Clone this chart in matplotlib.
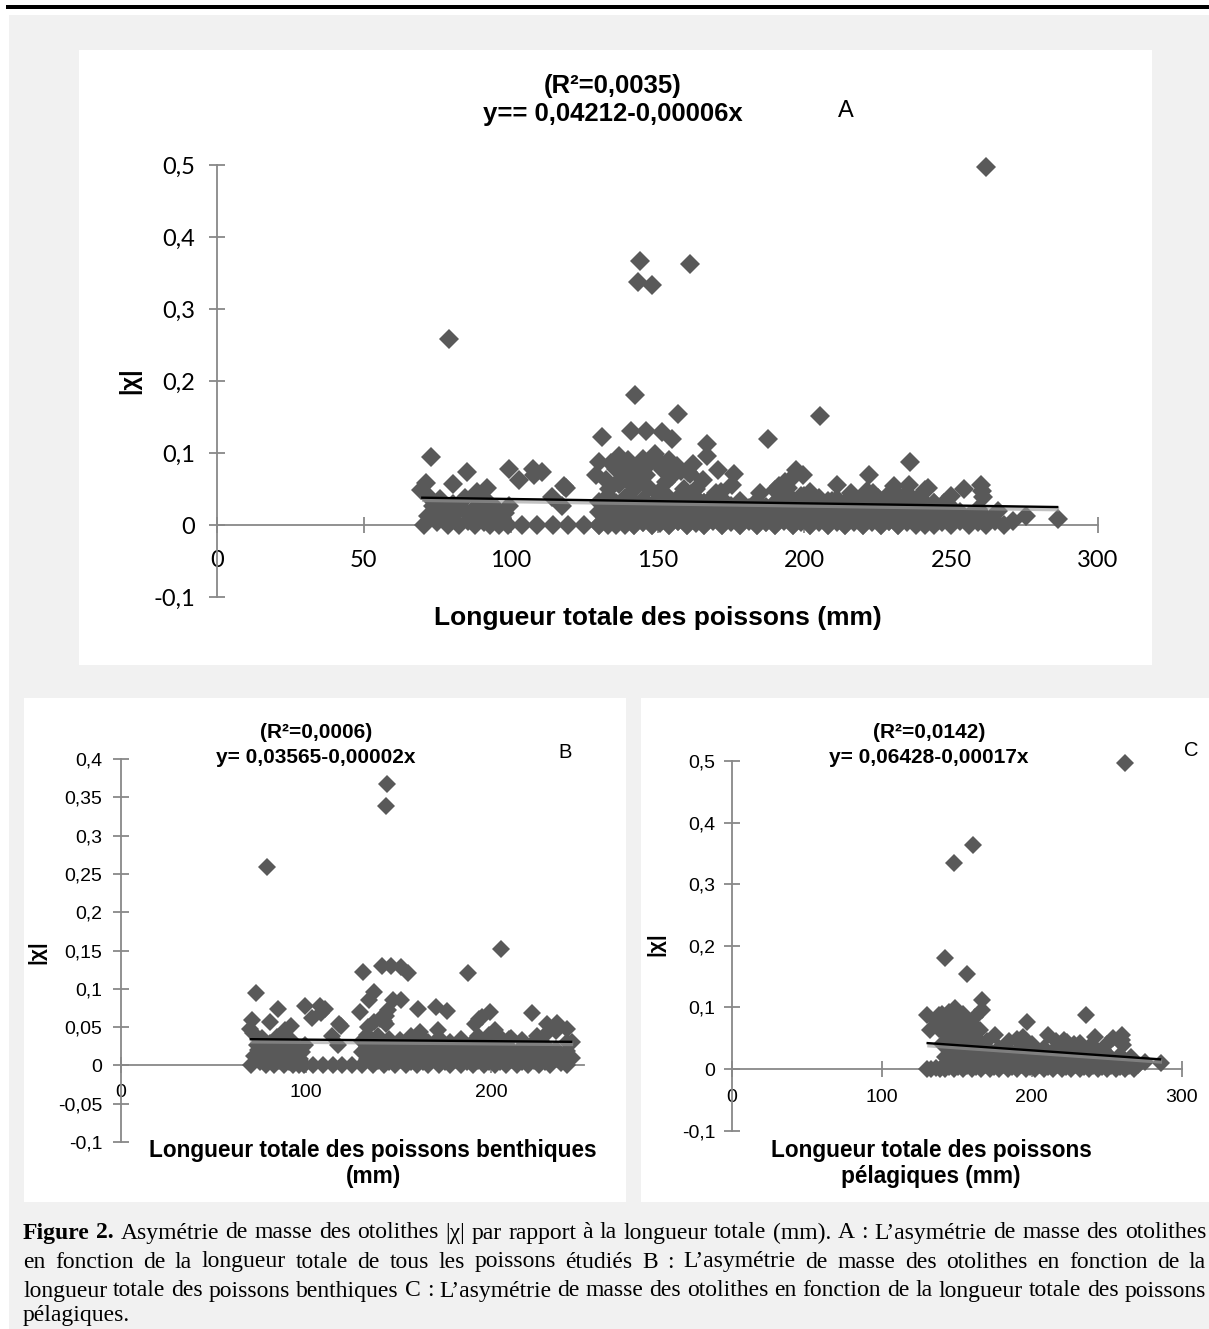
import matplotlib
matplotlib.use("Agg")
import matplotlib.pyplot as plt
import matplotlib.patheffects as pe
from matplotlib.patches import Rectangle

# figure size in pixels (dpi 100)
W, H = 1209, 1329

# ---- data ----
# benthic fish: (total length mm, |chi|)
benthic = [
    (79, 0.259), (144, 0.367), (143.5, 0.338), (205.5, 0.152), (187.5, 0.12),
    (131, 0.122), (141, 0.13), (146, 0.13), (151.5, 0.129), (155, 0.12),
    (73, 0.095), (134, 0.086), (137, 0.096), (147, 0.085), (151.5, 0.085),
    (129, 0.07), (85, 0.074), (99.5, 0.078), (107.5, 0.078), (108, 0.069),
    (103, 0.062), (80.5, 0.057), (71, 0.059), (69.5, 0.048), (92, 0.052),
    (88.5, 0.046), (119, 0.052), (114, 0.039), (117.5, 0.026), (140, 0.061),
    (143.5, 0.065), (133.5, 0.05), (137, 0.057), (160.5, 0.074), (170.5, 0.076),
    (176, 0.071), (161.5, 0.043), (171.5, 0.046), (195, 0.063), (199.5, 0.07),
    (202, 0.046), (222, 0.069), (193.5, 0.06), (191.5, 0.054), (230.5, 0.054),
    (235.5, 0.056), (241, 0.03), (225, 0.038), (209.5, 0.034), (205, 0.037),
    (144.5, 0.072), (143, 0.054), (142, 0.058), (118, 0.054), (110.5, 0.073),
    (70.5, 0.0), (72, 0.012), (73.5, 0.027), (75, 0.004), (76, 0.036),
    (77, 0.018), (78.5, 0.0), (79.5, 0.009), (80.5, 0.029), (81.5, 0.016),
    (82.5, 0.0), (83.5, 0.023), (84.5, 0.037), (85.5, 0.006), (87, 0.014),
    (88, 0.0), (89, 0.028), (90, 0.019), (91, 0.004), (92, 0.033),
    (93, 0.0), (94, 0.013), (95, 0.024), (96, 0.0), (97, 0.009),
    (98, 0.017), (99, 0.0), (71.5, 0.042), (87.5, 0.04), (99.5, 0.027),
    (74, 0.02), (90.5, 0.012),
    (104, 0.0), (109, 0.0), (114.5, 0.0), (119.5, 0.0), (125, 0.0),
    (130, 0.0), (130, 0.018), (130, 0.032), (133, 0.008), (133, 0.025), (133, 0.04),
    (136, 0.0), (136, 0.015), (136, 0.03), (139, 0.006), (139, 0.022), (139, 0.038),
    (142, 0.0), (142, 0.012), (142, 0.028), (145, 0.004), (145, 0.02), (145, 0.035),
    (148, 0.0), (148, 0.01), (148, 0.026), (151, 0.007), (151, 0.018), (151, 0.033),
    (154, 0.0), (154, 0.013), (154, 0.029), (157, 0.005), (157, 0.022), (157, 0.038),
    (160, 0.0), (160, 0.011), (160, 0.027), (163, 0.004), (163, 0.019), (163, 0.034),
    (166, 0.0), (166, 0.014), (166, 0.03), (169, 0.008), (169, 0.024),
    (172, 0.0), (172, 0.016), (172, 0.036), (175, 0.005), (175, 0.027),
    (178, 0.0), (178, 0.012), (178, 0.031), (181, 0.007), (181, 0.021),
    (184, 0.0), (184, 0.015), (184, 0.034), (187, 0.004), (187, 0.025),
    (190, 0.0), (190, 0.012), (190, 0.031), (193, 0.006), (193, 0.02), (193, 0.038),
    (196, 0.0), (196, 0.014), (196, 0.028), (199, 0.005), (199, 0.022), (199, 0.04),
    (202, 0.0), (202, 0.011), (202, 0.03), (205, 0.004), (205, 0.019),
    (208, 0.0), (208, 0.013), (208, 0.027), (211, 0.007), (211, 0.021), (211, 0.036),
    (214, 0.0), (214, 0.015), (217, 0.004), (217, 0.024), (217, 0.033),
    (220, 0.0), (220, 0.012), (223, 0.006), (223, 0.02), (223, 0.03),
    (226, 0.0), (226, 0.014), (229, 0.005), (229, 0.026), (229, 0.04),
    (232, 0.0), (232, 0.017), (235, 0.008), (235, 0.022), (235, 0.045),
    (238, 0.003), (238, 0.014), (241, 0.0), (241, 0.019), (241, 0.048),
    (244, 0.01), (244, 0.03),
]

# pelagic fish: (total length mm, |chi|)
pelagic = [
    (262, 0.497), (161, 0.363), (148, 0.334), (142.5, 0.181), (157, 0.154),
    (167, 0.112), (167, 0.096), (130, 0.088), (197, 0.077), (236, 0.088),
    (132.5, 0.063), (140, 0.09), (149, 0.099), (156.5, 0.082), (161, 0.071),
    (165.5, 0.063), (175.5, 0.055), (194.5, 0.052), (211, 0.055), (223.5, 0.044),
    (232, 0.042), (242, 0.052), (254.5, 0.05), (260, 0.055), (260.5, 0.047),
    (261, 0.039), (286.5, 0.009), (275.5, 0.012), (266, 0.02), (221.5, 0.047),
    (247.5, 0.031), (136, 0.078), (144, 0.085), (146, 0.07), (152, 0.076),
    (138, 0.065), (153, 0.06), (159, 0.05), (143, 0.055), (150, 0.045),
    (155, 0.068), (163, 0.05), (170, 0.045), (185, 0.045), (200, 0.04),
    (216, 0.045), (228, 0.04), (250, 0.04), (190, 0.048),
    (140, 0.04), (147, 0.052), (152, 0.035), (158, 0.04), (163, 0.038),
    (168, 0.035), (138, 0.088), (141, 0.075), (145, 0.092), (150, 0.085),
    (154, 0.09), (158, 0.075), (162, 0.085),
    (130, 0.0), (133, 0.0), (136, 0.002), (139, 0.0), (142, 0.0), (142, 0.02),
    (145, 0.004), (145, 0.035), (148, 0.0), (148, 0.015), (148, 0.028),
    (151, 0.003), (151, 0.022), (154, 0.0), (154, 0.012), (154, 0.038),
    (157, 0.005), (157, 0.025), (160, 0.0), (160, 0.015), (160, 0.034),
    (163, 0.003), (163, 0.022), (166, 0.0), (166, 0.01), (166, 0.03),
    (169, 0.006), (169, 0.02), (172, 0.0), (172, 0.013), (172, 0.03),
    (175, 0.004), (175, 0.022), (178, 0.0), (178, 0.015), (178, 0.034),
    (181, 0.006), (181, 0.024), (184, 0.0), (184, 0.012), (184, 0.032),
    (187, 0.004), (187, 0.02), (190, 0.0), (190, 0.014), (190, 0.03),
    (193, 0.007), (193, 0.024), (196, 0.0), (196, 0.012), (196, 0.035),
    (199, 0.004), (199, 0.02), (202, 0.0), (202, 0.015), (202, 0.03),
    (205, 0.006), (205, 0.024), (208, 0.0), (208, 0.012), (208, 0.034),
    (211, 0.004), (211, 0.02), (214, 0.0), (214, 0.014), (214, 0.03),
    (217, 0.006), (217, 0.022), (220, 0.0), (220, 0.012), (220, 0.035),
    (223, 0.004), (223, 0.025), (226, 0.0), (226, 0.015), (226, 0.032),
    (229, 0.006), (229, 0.02), (232, 0.0), (232, 0.012), (232, 0.03),
    (235, 0.004), (235, 0.024), (238, 0.0), (238, 0.015), (238, 0.035),
    (241, 0.005), (241, 0.022), (244, 0.0), (244, 0.012), (244, 0.03),
    (247, 0.004), (247, 0.018), (250, 0.0), (250, 0.01), (250, 0.025),
    (253, 0.005), (253, 0.018), (256, 0.0), (256, 0.012), (259, 0.004),
    (259, 0.022), (262, 0.0), (262, 0.01), (265, 0.005), (268, 0.0), (271, 0.006),
]

# all fish = benthic + pelagic
all_fish = benthic + pelagic

# regression lines (intercept, slope) as printed on the charts
fit_all = (0.04212, -0.00006)
fit_benthic = (0.03565, -0.00002)
fit_pelagic = (0.06428, -0.00017)

titles_a = ["(R²=0,0035)", "y== 0,04212-0,00006x"]
titles_b = ["(R²=0,0006)", "y= 0,03565-0,00002x"]
titles_c = ["(R²=0,0142)", "y= 0,06428-0,00017x"]

xticks_a = [0, 50, 100, 150, 200, 250, 300]
yticks_a = [-0.1, 0, 0.1, 0.2, 0.3, 0.4, 0.5]
ylabels_a = ["-0,1", "0", "0,1", "0,2", "0,3", "0,4", "0,5"]
xticks_b = [0, 100, 200]
yticks_b = [-0.1, -0.05, 0, 0.05, 0.1, 0.15, 0.2, 0.25, 0.3, 0.35, 0.4]
ylabels_b = ["-0,1", "-0,05", "0", "0,05", "0,1", "0,15", "0,2", "0,25", "0,3", "0,35", "0,4"]
xticks_c = [0, 100, 200, 300]
yticks_c = [-0.1, 0, 0.1, 0.2, 0.3, 0.4, 0.5]
ylabels_c = ["-0,1", "0", "0,1", "0,2", "0,3", "0,4", "0,5"]

caption = [
    "Figure 2. Asymétrie de masse des otolithes |χ|  par rapport à la longueur totale (mm). A : L’asymétrie de masse des otolithes",
    "en fonction de la longueur totale de tous les poissons étudiés B : L’asymétrie de masse des otolithes en fonction de la",
    "longueur totale des poissons benthiques C : L’asymétrie de masse des otolithes en fonction de la longueur totale des poissons",
    "pélagiques.",
]

POINT = "#595959"
AXIS = "#888888"
PAGE = "#f1f1f1"
SANS = "Liberation Sans"


def fx(px):
    return px / W


def fy(py):
    return 1 - py / H


fig = plt.figure(figsize=(W / 100, H / 100), dpi=100)

# page background, top rule and white chart areas
fig.patches.append(Rectangle((fx(9), 0), 1, fy(15), transform=fig.transFigure,
                             facecolor=PAGE, edgecolor="none", zorder=-5))
fig.patches.append(Rectangle((fx(6), fy(8.5)), 1, 4 / H, transform=fig.transFigure,
                             facecolor="black", edgecolor="none", zorder=-4))
for x0, y0, x1, y1 in [(79, 50, 1152, 665), (24, 698, 626, 1202), (641, 698, 1209, 1202)]:
    fig.patches.append(Rectangle((fx(x0), fy(y1)), (x1 - x0) / W, (y1 - y0) / H,
                                 transform=fig.transFigure, facecolor="white",
                                 edgecolor="none", zorder=-3))


def panel(box, pts, fit, xlim, xticks, ylim, yticks, ylabels, tickfont, ticksize,
          ticklen, xpad, ypad, msize):
    left, top, right, bottom = box
    ax = fig.add_axes([fx(left), fy(bottom), (right - left) / W, (bottom - top) / H])
    ax.patch.set_visible(False)
    xs = [p[0] for p in pts]
    ys = [p[1] for p in pts]
    ax.plot(xs, ys, ls="none", marker="D", ms=msize, mfc=POINT, mec=POINT, mew=0,
            zorder=3, clip_on=False)
    a, b = fit
    lo, hi = min(xs), max(xs)
    ax.plot([lo, hi], [a + b * lo, a + b * hi], color="black", lw=1.7, zorder=4,
            solid_capstyle="butt",
            path_effects=[pe.SimpleLineShadow(offset=(0.6, -1.4), shadow_color="#9a9a9a",
                                              alpha=0.6, linewidth=3.5),
                          pe.Normal()])
    ax.set_xlim(*xlim)
    ax.set_ylim(*ylim)
    for s in ("top", "right"):
        ax.spines[s].set_visible(False)
    ax.spines["bottom"].set_position(("data", 0))
    for s in ("left", "bottom"):
        ax.spines[s].set_color(AXIS)
        ax.spines[s].set_linewidth(1.3)
    ax.set_xticks(xticks)
    ax.set_xticklabels([str(t) for t in xticks], family=tickfont, fontsize=ticksize)
    ax.set_yticks(yticks)
    ax.set_yticklabels(ylabels, family=tickfont, fontsize=ticksize)
    ax.tick_params(direction="inout", length=ticklen, width=1.3, color=AXIS)
    ax.tick_params(axis="x", pad=xpad)
    ax.tick_params(axis="y", pad=ypad)
    return ax


panel((217, 165, 1098, 597), all_fish, fit_all, (0, 300), xticks_a, (-0.1, 0.5),
      yticks_a, ylabels_a, "Lato", 17, 12, 12, 10, 9.8)
panel((121, 759, 583.5, 1142), benthic, fit_benthic, (0, 250), xticks_b, (-0.1, 0.4),
      yticks_b, ylabels_b, SANS, 14, 11, 8, 8, 8.9)
panel((731.5, 761, 1181.5, 1130.6), pelagic, fit_pelagic, (0, 300), xticks_c, (-0.1, 0.5),
      yticks_c, ylabels_c, SANS, 14, 11, 9, 6, 9.1)


def label(px, py, s, size, bold=True, rot=0, family=SANS):
    fig.text(fx(px), fy(py), s, fontsize=size, family=family,
             weight="bold" if bold else "normal", ha="center", va="center", rotation=rot)


# panel A texts
label(613, 86, titles_a[0], 18.5)
label(613, 114, titles_a[1], 18.5)
label(846, 111, "A", 17, bold=False)
label(658, 618, "Longueur totale des poissons (mm)", 19)
label(130, 381, "|χ|", 17, rot=90)

# panel B texts
label(316, 732, titles_b[0], 15)
label(316, 758, titles_b[1], 15)
label(565, 753, "B", 14.5, bold=False)
label(373, 1150, "Longueur totale des poissons benthiques", 16.3)
label(373, 1177, "(mm)", 16.3)
label(37, 952, "|χ|", 15, rot=90)

# panel C texts
label(929, 732, titles_c[0], 15)
label(929, 758, titles_c[1], 15)
label(1191, 750, "C", 14.5, bold=False)
label(931, 1150, "Longueur totale des poissons", 16.3)
label(931, 1177, "pélagiques (mm)", 16.3)
label(656, 944, "|χ|", 15, rot=90)

# caption, justified between x0 and x1; font shrinks until every line fits
CAP_X0, CAP_X1 = 23, 1206
CAP_Y = [1233, 1262, 1291, 1316]
renderer = fig.canvas.get_renderer()
size = 17.0
while True:
    placed = []
    ok = True
    for i, line in enumerate(caption):
        words = line.split()
        texts = []
        for j, w in enumerate(words):
            bold = i == 0 and j < 2
            t = fig.text(0, fy(CAP_Y[i]), w, fontsize=size, family="Liberation Serif",
                         weight="bold" if bold else "normal", ha="left", va="center")
            texts.append(t)
        widths = [t.get_window_extent(renderer).width for t in texts]
        if i < len(caption) - 1 and len(words) > 1:
            gap = (CAP_X1 - CAP_X0 - sum(widths)) / (len(words) - 1)
            if gap < 4.5:
                ok = False
        else:
            gap = 0.25 * size * 100 / 72
        placed.append((texts, widths, gap))
    if ok:
        break
    for texts, _, _ in placed:
        for t in texts:
            t.remove()
    size -= 0.25

for texts, widths, gap in placed:
    x = CAP_X0
    for t, wd in zip(texts, widths):
        t.set_x(fx(x))
        x += wd + gap

fig.savefig("out.png", dpi=100)
